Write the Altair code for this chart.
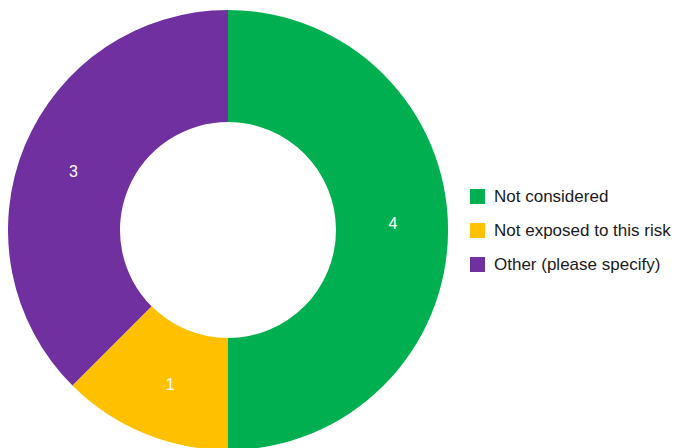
import altair as alt
import pandas as pd

categories = ["Not considered", "Not exposed to this risk", "Other (please specify)"]
values = [4, 1, 3]
colors = ["#00B050", "#FFC000", "#7030A0"]

df = pd.DataFrame({"category": categories, "value": values, "order": [0, 1, 2]})

cx, cy = 220, 222

base = alt.Chart(df).encode(
    theta=alt.Theta("value:Q", stack=True),
    order=alt.Order("order:Q"),
    x=alt.value(cx),
    y=alt.value(cy),
)

arcs = base.mark_arc(outerRadius=220, innerRadius=108, stroke=None).encode(
    color=alt.Color(
        "category:N",
        scale=alt.Scale(domain=categories, range=colors),
        sort=categories,
        legend=alt.Legend(
            title=None,
            orient="none",
            legendX=461,
            legendY=180,
            symbolType="square",
            symbolSize=225,
            symbolStrokeWidth=0,
            labelFontSize=17,
            labelFont="Liberation Sans",
            labelColor="#1a1a1a",
            labelOffset=8,
            rowPadding=16,
            padding=0,
            labelLimit=300,
        ),
    )
)

labels = base.mark_text(
    radius=165, thetaOffset=-0.035, fontSize=16, font="Liberation Sans", color="white"
).encode(text=alt.Text("value:Q"))

chart = (
    alt.layer(arcs, labels)
    .properties(width=673, height=440, padding=0, autosize=alt.AutoSizeParams(type="none"))
    .configure_view(stroke=None)
)

chart.save("out.html", embed_options={"renderer": "svg", "actions": False})
